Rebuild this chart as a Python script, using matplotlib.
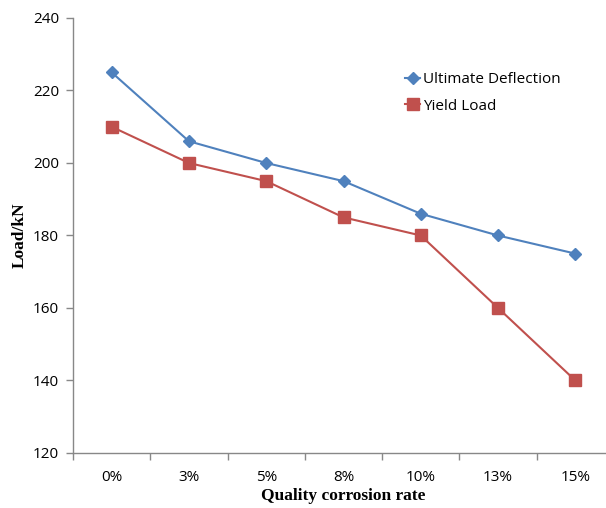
import matplotlib
matplotlib.use("Agg")
import matplotlib.pyplot as plt
import numpy as np

categories = ["0%", "3%", "5%", "8%", "10%", "13%", "15%"]
ultimate_deflection = [225, 206, 200, 195, 186, 180, 175]
yield_load = [210, 200, 195, 185, 180, 160, 140]
y_ticks = [120, 140, 160, 180, 200, 220, 240]

W, H = 606, 508
fig = plt.figure(figsize=(W / 100, H / 100), dpi=100)
# axes box in pixels: left 73, right 614 (runs past the canvas edge), top 18, bottom 453
left, right, top, bottom = 73, 614, 18, 453
ax = fig.add_axes([left / W, 1 - bottom / H, (right - left) / W, (bottom - top) / H])

blue = "#4F81BD"
red = "#C0504D"
x = np.arange(len(categories))

ax.plot(x, ultimate_deflection, color=blue, lw=1.5, marker="D", ms=6,
        label="Ultimate Deflection")
ax.plot(x, yield_load, color=red, lw=1.5, marker="s", ms=8,
        label="Yield Load")

ax.set_xlim(-0.5, len(categories) - 0.5)
ax.set_ylim(120, 240)
ax.set_yticks(y_ticks)
ax.set_xticks(x)
ax.set_xticklabels(categories)
ax.set_xticks(np.arange(-0.5, len(categories)), minor=True)

for lbl in ax.get_yticklabels() + ax.get_xticklabels():
    lbl.set_fontfamily("Open Sans")
    lbl.set_fontsize(11)

ax.tick_params(axis="x", which="major", length=0, pad=12)
ax.tick_params(axis="x", which="minor", length=5, color="#888888", width=1)
ax.tick_params(axis="y", length=5, color="#888888", width=1, pad=5)

for s in ["top", "right"]:
    ax.spines[s].set_visible(False)
for s in ["left", "bottom"]:
    ax.spines[s].set_color("#888888")
    ax.spines[s].set_linewidth(1)

label_font = dict(family="Liberation Serif", weight="bold", size=12.5)
fig.text(343 / W, 1 - 496 / H, "Quality corrosion rate", ha="center", va="center",
         **label_font)
fig.text(20 / W, 1 - 235 / H, "Load/kN", ha="center", va="center",
         rotation=90, **label_font)

ax.legend(loc="upper left",
          bbox_to_anchor=((399 - left) / (right - left), 1 - (66 - top) / (bottom - top)),
          frameon=False, handlelength=1.0, handletextpad=0.2, labelspacing=0.75,
          prop=dict(family="Open Sans", size=11), borderaxespad=0)

fig.savefig("out.png", dpi=100)
